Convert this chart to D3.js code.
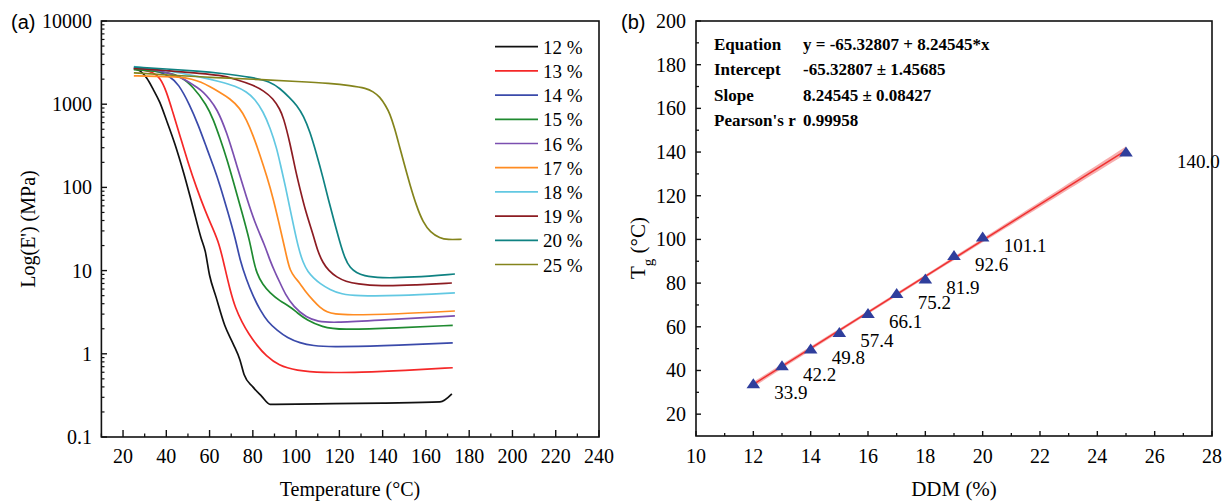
<!DOCTYPE html>
<html><head><meta charset="utf-8">
<script src="https://cdn.jsdelivr.net/npm/d3@7"></script>
<style>body{margin:0;background:#fff}svg{display:block}</style>
</head><body>
<svg id="c" width="1226" height="501"></svg>
<script>
// ---------- data: panel (a) storage modulus vs temperature ----------
const seriesNames = ["12 %","13 %","14 %","15 %","16 %","17 %","18 %","19 %","20 %","25 %"];
const c12 = [[25,2700],[28,2500],[31,2050],[34,1500],[37,1050],[40,650],[44,330],[48,150],[52,62],[56,25],[58,17],[60,8.8],[63,4.8],[67,2.2],[71,1.3],[74,0.85],[76,0.56],[80,0.4],[84,0.31],[88,0.247],[110,0.25],[140,0.256],[166.5,0.264],[172,0.33]];
const c13 = [[25,2650],[30,2550],[34,2400],[37,2100],[40,1450],[43,800],[46.3,420],[50,200],[54,98],[58,52],[61.5,32],[64.5,21],[67,11],[69.5,5.8],[72,3.5],[75,2.4],[78,1.75],[82,1.25],[86,0.95],[92,0.72],[100,0.63],[112,0.59],[130,0.6],[150,0.63],[172.4,0.68]];
const c14 = [[25,2700],[32,2600],[37,2450],[41.7,2140],[45.5,1780],[50.9,977],[54.8,560],[58.7,296],[61.8,180],[64.8,107],[68.5,50],[72,24],[74,13.5],[77.1,7.7],[80,5],[83.3,3.36],[87,2.4],[91.1,1.93],[96,1.55],[101.7,1.35],[108,1.25],[115.6,1.21],[138.7,1.24],[172.4,1.35]];
const c15 = [[25,2600],[35,2500],[40.2,2400],[46.3,2200],[52.5,1620],[58.7,977],[61.8,650],[64.8,390],[68,220],[71,117],[75,50],[78.7,22],[80.2,13.5],[81.8,9.3],[84.5,6.8],[87.9,5.4],[92.5,4.3],[97.2,3.7],[100.5,3.1],[104.9,2.55],[112,2.1],[120.2,1.93],[146.6,2.04],[172.4,2.2]];
const c16 = [[25,2750],[35,2600],[42,2350],[49.4,1950],[54,1600],[57.1,1410],[60,1150],[63.3,890],[67.9,468],[72.5,186],[77.1,75],[81,37],[85.6,20],[88,13],[90.3,9.5],[92.5,7.2],[95,5.2],[98.7,3.7],[104.9,2.7],[110,2.45],[117,2.35],[138.7,2.55],[173.4,2.85]];
const c17 = [[25,2190],[35,2160],[46.3,2140],[52,2000],[56,1850],[60.2,1620],[64.5,1400],[69.4,1170],[74,900],[77.1,650],[80,430],[83.3,245],[86.5,135],[89.4,74],[92,38],[94.1,22],[95.8,14],[97.2,10],[99.5,8.2],[101.7,7.1],[104.5,5.5],[107.8,4.4],[111,3.6],[114.3,3.16],[118,3.0],[123.5,2.92],[146.6,3.0],[173.4,3.27]];
const c18 = [[25,2830],[40,2550],[55,2150],[64.8,1870],[72,1650],[77.1,1410],[81,1150],[84.8,814],[88,520],[91,300],[93,175],[95,105],[97,58],[99,33],[101,19],[103.2,12.4],[105.5,9.6],[108,8.2],[111,7],[115.6,5.9],[121,5.2],[128,4.96],[146.6,4.96],[173.4,5.4]];
const c19 = [[25,2700],[40,2550],[55,2350],[64.8,2240],[72,2000],[80.2,1700],[85,1450],[89.4,1170],[92.5,870],[94.1,700],[97.2,340],[99.5,170],[101.7,98],[104.5,50],[107.9,27],[110,17],[112.4,12.4],[115,10],[118.8,8.3],[123,7.4],[128,6.9],[138.7,6.5],[155,6.7],[172,7.1]];
const c20 = [[25,2800],[40,2650],[55,2500],[64.8,2360],[80,2100],[87.9,1870],[92.5,1550],[97,1200],[100.3,977],[103.5,720],[106.4,468],[109.5,250],[112.5,129],[115,70],[117.5,40],[120,23],[122.5,14],[125,10.7],[128,9.4],[131,8.7],[138.7,8.1],[154,8.3],[173.4,9.1]];
const c25 = [[25,2380],[40,2250],[60,2100],[80,2000],[101.7,1870],[115.6,1780],[125,1680],[132.6,1550],[135.5,1420],[138.7,1230],[141.5,950],[143.3,775],[145.5,520],[147.8,309],[150,190],[152.5,110],[155.7,59],[158.7,38],[162,29],[166.5,24.5],[170,23.5],[176.5,23.8]];
const curves = [c12,c13,c14,c15,c16,c17,c18,c19,c20,c25];
const colors = ["#111111","#f52828","#3a4aaa","#1f8a30","#7b4fb0","#ff8c22","#62c8e2","#8c1c22","#0f8282","#84841c"];

const xTicksA = [20,40,60,80,100,120,140,160,180,200,220,240];
const yTicksA = [0.1,1,10,100,1000,10000];
const yTickLabelsA = ["0.1","1","10","100","1000","10000"];

// ---------- data: panel (b) Tg vs DDM ----------
const ddm = [12,13,14,15,16,17,18,19,20,25];
const tg = [33.9,42.2,49.8,57.4,66.1,75.2,81.9,92.6,101.1,140.0];
const fitIntercept = -65.32807, fitSlope = 8.24545;
const fitRows = [["Equation","y = -65.32807 + 8.24545*x"],["Intercept","-65.32807 \u00b1 1.45685"],["Slope","8.24545 \u00b1 0.08427"],["Pearson's r","0.99958"]];
const slopeSE = 0.08427, tCrit = 2.306;
const xTicksB = [10,12,14,16,18,20,22,24,26,28];
const yTicksB = [20,40,60,80,100,120,140,160,180,200];

// ---------- drawing ----------
const svg = d3.select("#c");
const serif = "'Liberation Serif','Times New Roman',serif";
const sans = "'Liberation Sans',Arial,sans-serif";
const AX = 1.6;

// Panel (a)
const xa = d3.scaleLinear().domain([10,240]).range([101.4,599]);
const ya = d3.scaleLog().domain([0.1,10000]).range([437,21]);
const ga = svg.append("g");

const lineSmooth = d3.line().x(d=>xa(d[0])).y(d=>ya(d[1])).curve(d3.curveBasis);
const lineKinked = d3.line().x(d=>xa(d[0])).y(d=>ya(d[1])).curve(d3.curveMonotoneX);
curves.forEach((c,i)=>{
  ga.append("path").attr("d",(i===0?lineKinked:lineSmooth)(c)).attr("fill","none").attr("stroke",colors[i]).attr("stroke-width",1.7);
});

// frame
ga.append("rect").attr("x",xa.range()[0]).attr("y",ya.range()[1])
  .attr("width",xa.range()[1]-xa.range()[0]).attr("height",ya.range()[0]-ya.range()[1])
  .attr("fill","none").attr("stroke","#111").attr("stroke-width",AX);

// x ticks (a)
const xMinorA = d3.range(10,241,10).filter(v=>!xTicksA.includes(v));
xTicksA.forEach(v=>{
  ga.append("line").attr("x1",xa(v)).attr("x2",xa(v)).attr("y1",437).attr("y2",430).attr("stroke","#111").attr("stroke-width",1.4);
  ga.append("text").attr("x",xa(v)).attr("y",463).attr("text-anchor","middle").attr("font-family",serif).attr("font-size",20).text(v);
});
xMinorA.forEach(v=>{
  ga.append("line").attr("x1",xa(v)).attr("x2",xa(v)).attr("y1",437).attr("y2",433.5).attr("stroke","#111").attr("stroke-width",1.3);
});
// y ticks (a)
const yMinorA = [];
[0.1,1,10,100,1000].forEach(d=>{for(let k=2;k<=9;k++) yMinorA.push(d*k);});
yTicksA.forEach((v,i)=>{
  ga.append("line").attr("x1",101.4).attr("x2",107).attr("y1",ya(v)).attr("y2",ya(v)).attr("stroke","#111").attr("stroke-width",1.4);
  ga.append("text").attr("x",92).attr("y",ya(v)+7).attr("text-anchor","end").attr("font-family",serif).attr("font-size",20).text(yTickLabelsA[i]);
});
yMinorA.forEach(v=>{
  ga.append("line").attr("x1",101.4).attr("x2",104.5).attr("y1",ya(v)).attr("y2",ya(v)).attr("stroke","#111").attr("stroke-width",1.2);
});
// titles (a)
ga.append("text").attr("x",350).attr("y",496).attr("text-anchor","middle").attr("font-family",serif).attr("font-size",20).text("Temperature (\u00b0C)");
ga.append("text").attr("transform","translate(35,229) rotate(-90)").attr("text-anchor","middle").attr("font-family",serif).attr("font-size",20).text("Log(E') (MPa)");
ga.append("text").attr("x",11).attr("y",29).attr("font-family",sans).attr("font-size",20).text("(a)");

// legend (a)
seriesNames.forEach((n,i)=>{
  const yy = 46.7 + i*24.2;
  ga.append("line").attr("x1",495).attr("x2",538).attr("y1",yy).attr("y2",yy).attr("stroke",colors[i]).attr("stroke-width",1.7);
  ga.append("text").attr("x",543).attr("y",yy+7).attr("font-family",serif).attr("font-size",19).text(n);
});

// Panel (b)
const xb = d3.scaleLinear().domain([10,28]).range([696,1212]);
const yb = d3.scaleLinear().domain([10,200]).range([436,21]);
const gb = svg.append("g");

// confidence band and fit line
const n = ddm.length, xbar = d3.mean(ddm);
const sxx = d3.sum(ddm, v=>(v-xbar)*(v-xbar));
const s = slopeSE*Math.sqrt(sxx);
const fx = d3.range(12,25.001,0.25);
const band = fx.map(x=>{
  const yv = fitIntercept + fitSlope*x;
  const h = tCrit*s*Math.sqrt(1/n + (x-xbar)*(x-xbar)/sxx);
  return [x, yv-h, yv+h];
});
gb.append("path").attr("d", d3.area().x(d=>xb(d[0])).y0(d=>yb(d[1])).y1(d=>yb(d[2]))(band))
  .attr("fill","#f4a0a0").attr("opacity",0.85);
gb.append("line").attr("x1",xb(12)).attr("x2",xb(25))
  .attr("y1",yb(fitIntercept+fitSlope*12)).attr("y2",yb(fitIntercept+fitSlope*25))
  .attr("stroke","#f03030").attr("stroke-width",1.5);

// markers
ddm.forEach((x,i)=>{
  const cx = xb(x), cy = yb(tg[i]);
  gb.append("path").attr("d",`M${cx},${cy-5.5}L${cx+6.8},${cy+4.5}L${cx-6.8},${cy+4.5}Z`).attr("fill","#2f3e9c");
});
// value labels
const labelShift = ddm.map((x,i)=> i===n-1 ? [51,16] : [21,15]);
ddm.forEach((x,i)=>{
  gb.append("text").attr("x",xb(x)+labelShift[i][0]).attr("y",yb(tg[i])+labelShift[i][1])
    .attr("font-family",serif).attr("font-size",19).text(tg[i].toFixed(1));
});

// frame
gb.append("rect").attr("x",696).attr("y",21).attr("width",1212-696).attr("height",436-21)
  .attr("fill","none").attr("stroke","#111").attr("stroke-width",AX);
// ticks (b)
xTicksB.forEach(v=>{
  gb.append("line").attr("x1",xb(v)).attr("x2",xb(v)).attr("y1",436).attr("y2",431).attr("stroke","#111").attr("stroke-width",1.4);
  gb.append("text").attr("x",xb(v)).attr("y",463).attr("text-anchor","middle").attr("font-family",serif).attr("font-size",20).text(v);
});
d3.range(11,28,2).forEach(v=>{
  gb.append("line").attr("x1",xb(v)).attr("x2",xb(v)).attr("y1",436).attr("y2",433).attr("stroke","#111").attr("stroke-width",1.3);
});
yTicksB.forEach(v=>{
  gb.append("line").attr("x1",696).attr("x2",701).attr("y1",yb(v)).attr("y2",yb(v)).attr("stroke","#111").attr("stroke-width",1.4);
  gb.append("text").attr("x",686).attr("y",yb(v)+7).attr("text-anchor","end").attr("font-family",serif).attr("font-size",20).text(v);
});
d3.range(30,200,20).forEach(v=>{
  gb.append("line").attr("x1",696).attr("x2",699).attr("y1",yb(v)).attr("y2",yb(v)).attr("stroke","#111").attr("stroke-width",1.3);
});
// titles (b)
gb.append("text").attr("x",954).attr("y",496).attr("text-anchor","middle").attr("font-family",serif).attr("font-size",21).text("DDM (%)");
const tt = gb.append("text").attr("transform","translate(645,248) rotate(-90)").attr("text-anchor","middle").attr("font-family",serif).attr("font-size",21);
tt.append("tspan").text("T");
tt.append("tspan").attr("baseline-shift","sub").attr("font-size",15).text("g");
tt.append("tspan").text(" (\u00b0C)");
gb.append("text").attr("x",621).attr("y",29).attr("font-family",sans).attr("font-size",20).text("(b)");

// fit text box
fitRows.forEach((r,i)=>{
  const yy = 50 + i*25.3;
  gb.append("text").attr("x",714).attr("y",yy).attr("font-family",serif).attr("font-weight","bold").attr("font-size",17).text(r[0]);
  gb.append("text").attr("x",803).attr("y",yy).attr("font-family",serif).attr("font-weight","bold").attr("font-size",17).text(r[1]);
});
</script>
</body></html>
